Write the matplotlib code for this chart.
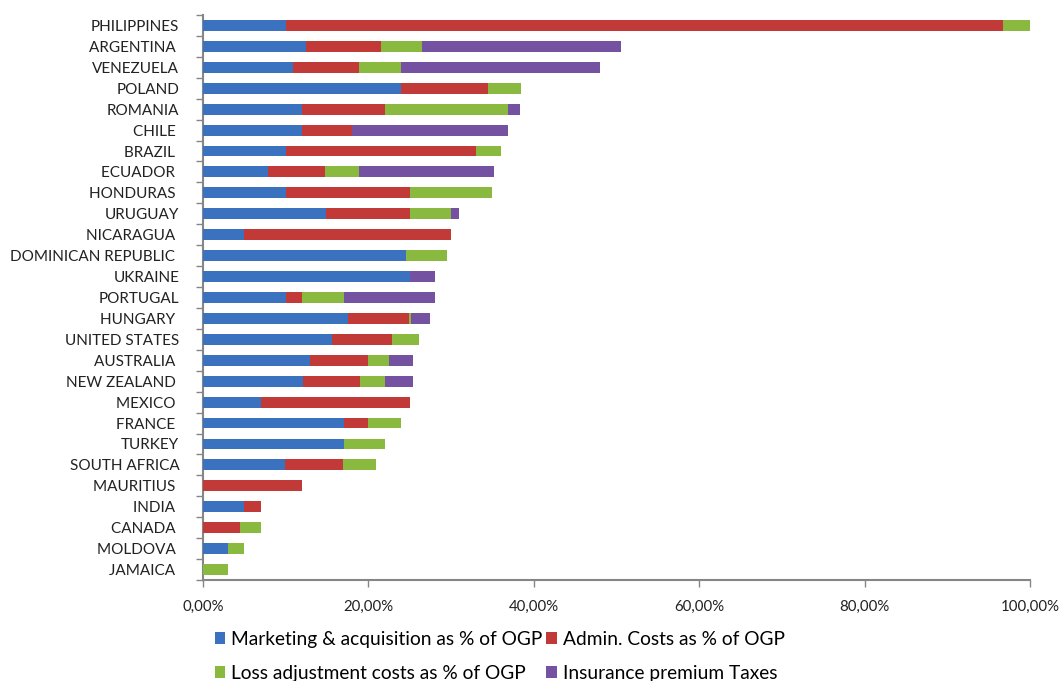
import matplotlib
matplotlib.use("Agg")
from matplotlib import pyplot as plt
from matplotlib.ticker import FuncFormatter, FixedLocator
import numpy as np

plt.rcParams['font.family'] = ['Lato', 'DejaVu Sans']

countries = ["PHILIPPINES", "ARGENTINA ", "VENEZUELA", "POLAND", "ROMANIA", "CHILE ",
             "BRAZIL ", "ECUADOR ", "HONDURAS ", "URUGUAY", "NICARAGUA ",
             "DOMINICAN REPUBLIC ", "UKRAINE", "PORTUGAL", "HUNGARY ", "UNITED STATES",
             "AUSTRALIA ", "NEW ZEALAND ", "MEXICO ", "FRANCE ", "TURKEY", "SOUTH AFRICA",
             "MAURITIUS ", "INDIA ", "CANADA ", "MOLDOVA ", "JAMAICA "]

# shares of OGP, in %
marketing = [10.0, 12.4, 10.9, 23.9, 12.0, 12.0, 10.0, 7.9, 10.0, 14.9, 5.0,
             24.5, 25.0, 10.0, 17.5, 15.6, 13.0, 12.1, 7.0, 17.0, 17.0, 9.9,
             0.0, 5.0, 0.0, 3.0, 0.0]
admin = [86.7, 9.1, 8.0, 10.6, 10.0, 6.0, 23.0, 6.9, 15.0, 10.1, 25.0,
         0.0, 0.0, 2.0, 7.4, 7.3, 7.0, 6.9, 18.0, 3.0, 0.0, 7.0,
         12.0, 2.0, 4.5, 0.0, 0.0]
loss_adj = [3.3, 5.0, 5.1, 3.9, 14.9, 0.0, 3.0, 4.1, 10.0, 5.0, 0.0,
            5.0, 0.0, 5.0, 0.3, 3.2, 2.5, 3.0, 0.0, 4.0, 5.0, 4.0,
            0.0, 0.0, 2.5, 2.0, 3.0]
taxes = [0.0, 24.0, 24.0, 0.0, 1.4, 18.9, 0.0, 16.3, 0.0, 1.0, 0.0,
         0.0, 3.0, 11.0, 2.2, 0.0, 2.9, 3.4, 0.0, 0.0, 0.0, 0.0,
         0.0, 0.0, 0.0, 0.0, 0.0]

series = [
    ("Marketing & acquisition as % of OGP", marketing, "#3b72c0"),
    ("Admin. Costs as % of OGP", admin, "#c23a37"),
    ("Loss adjustment costs as % of OGP", loss_adj, "#8ab93f"),
    ("Insurance premium Taxes", taxes, "#7551a1"),
]

fig = plt.figure(figsize=(10.61, 6.81), dpi=100)
ax = fig.add_axes([0.1913, 0.1483, 0.7795, 0.8297])

y = np.arange(len(countries))
left = np.zeros(len(countries))
handles = {}
for label, vals, color in series:
    vals = np.array(vals) / 100.0
    bars = ax.barh(y, vals, left=left, height=0.52, color=color, label=label,
                   linewidth=0, zorder=3)
    handles[label] = bars
    left += vals

ax.set_xlim(0, 1.0)
ax.set_ylim(len(countries) - 0.5, -0.5)

ax.xaxis.set_major_locator(FixedLocator(np.linspace(0, 1, 6)))
ax.xaxis.set_major_formatter(FuncFormatter(lambda v, p: ("%.2f%%" % (v * 100)).replace(".", ",")))
ax.tick_params(axis="x", length=5, width=1, color="#868686", pad=9, labelsize=10.8,
               labelcolor="#222222")

ax.set_yticks(y)
ax.set_yticklabels(countries)
ax.set_yticks(np.arange(-0.5, len(countries), 1.0), minor=True)
ax.tick_params(axis="y", which="major", length=0, pad=17, labelsize=11, labelcolor="#222222")
ax.tick_params(axis="y", which="minor", length=5, width=1, color="#868686")

for side in ("top", "right"):
    ax.spines[side].set_visible(False)
for side in ("left", "bottom"):
    ax.spines[side].set_color("#868686")
    ax.spines[side].set_linewidth(1.5)

order = [series[0][0], series[2][0], series[1][0], series[3][0]]
fig.legend([handles[k] for k in order], order, loc="upper left",
           bbox_to_anchor=(0.2025, 0.074), ncol=2, frameon=False, fontsize=13.8,
           handlelength=0.55, handleheight=0.55, handletextpad=0.3, columnspacing=0.2,
           labelspacing=0.9, borderaxespad=0, borderpad=0)

fig.savefig("out.png", dpi=100)
